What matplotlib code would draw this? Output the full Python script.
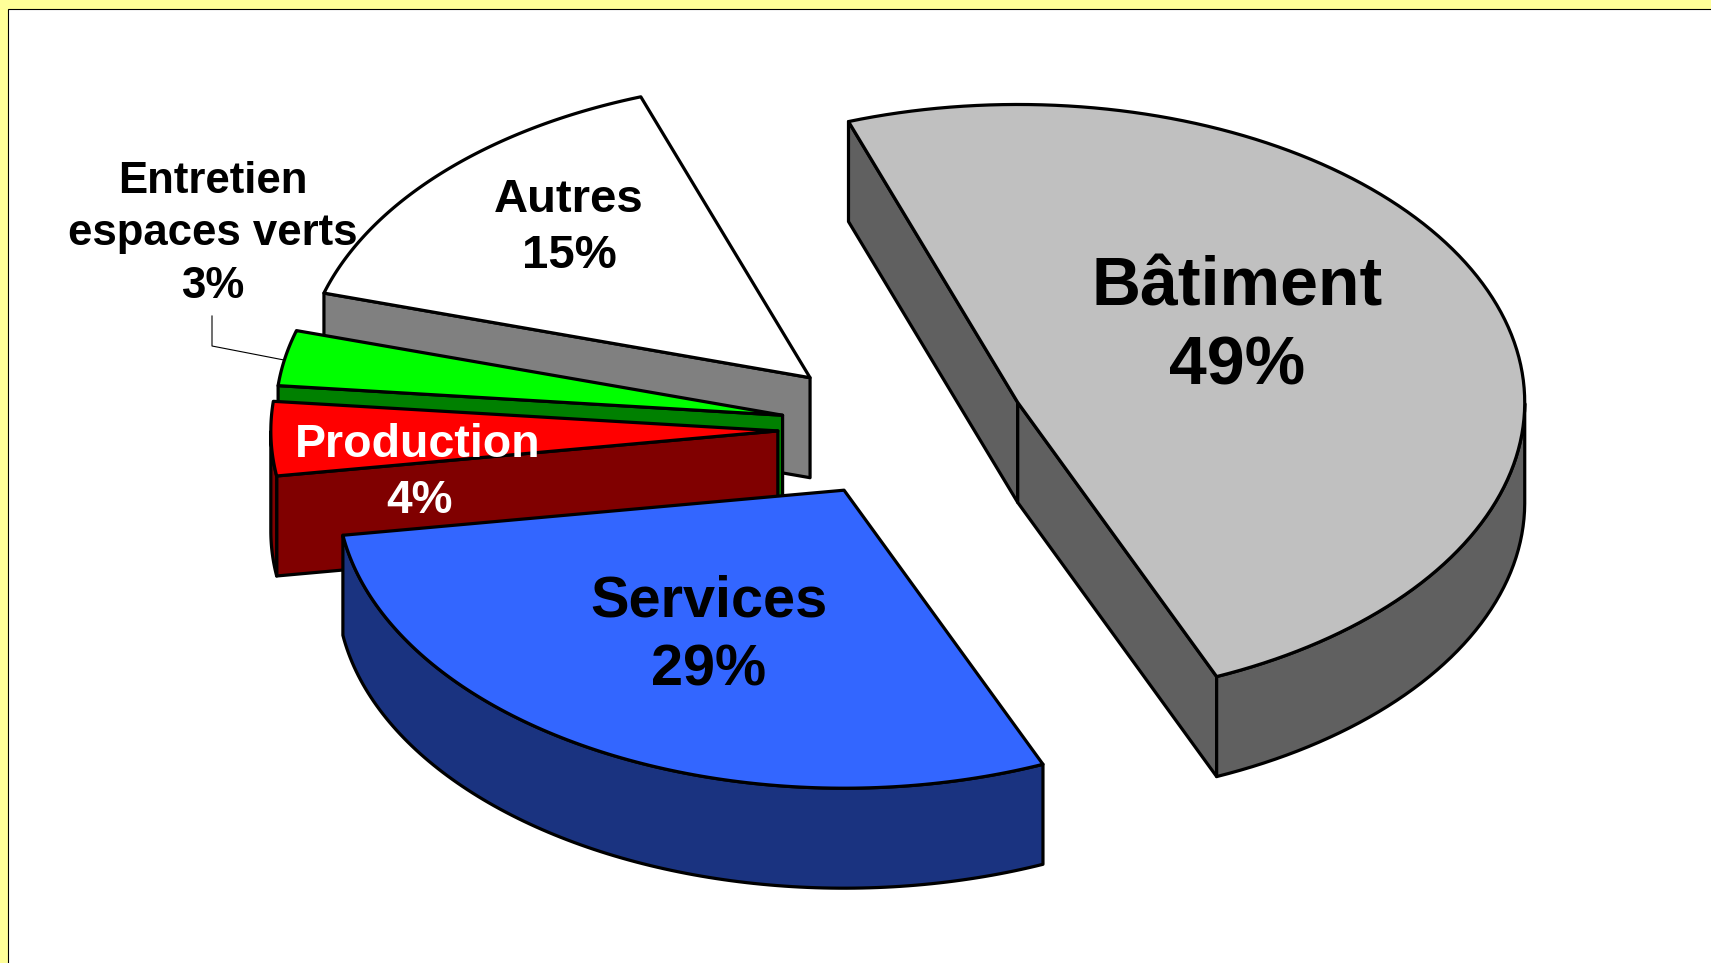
import numpy as np
import matplotlib
matplotlib.use("Agg")
import matplotlib.pyplot as plt
from matplotlib.patches import Polygon, Rectangle

labels = ["Bâtiment", "Services", "Production", "Entretien\nespaces verts", "Autres"]
values = [49, 29, 4, 3, 15]
colors = ["#C0C0C0", "#3366FF", "#FF0000", "#00FF00", "#FFFFFF"]
text_colors = ["black", "black", "white", "black", "black"]
explode = [0.245, 0.235, 0.245, 0.24, 0.25]

W, H = 1711, 963
cx, cy = 902, 429       # pie centre
a, b = 507, 298         # ellipse radii
depth = 100
start = 109.5           # first slice starts here, goes clockwise
lw = 2.3


def pt(t, r=1.0):
    return np.array([r * a * np.cos(np.radians(t)), -r * b * np.sin(np.radians(t))])


def shade(c):
    rgb = np.array(matplotlib.colors.to_rgb(c)) / 2
    return tuple(rgb)


fig = plt.figure(figsize=(W / 100, H / 100), dpi=100, facecolor="#FFFF99")
ax = fig.add_axes([0, 0, 1, 1])
ax.set_xlim(0, W)
ax.set_ylim(H, 0)
ax.axis("off")
ax.add_patch(Rectangle((8, 9), W, H, facecolor="white", edgecolor="black", linewidth=0.8))

# slice angles from values
ends = start - np.cumsum(values) * 3.6
starts = np.r_[start, ends[:-1]]

# painter's order: back slices first
for i in [4, 3, 2, 1, 0]:
    t0, t1 = starts[i], ends[i]
    mid = (t0 + t1) / 2
    apex = np.array([cx, cy]) + pt(mid, explode[i])
    ts = np.linspace(t0, t1, 120)
    arc = np.array([apex + pt(t) for t in ts])
    down = np.array([0, depth])
    dark = shade(colors[i])

    # radial faces, only the ones turned to the viewer
    for p, other in [(arc[0], arc[-1]), (arc[-1], arc[0])]:
        e = p - apex
        n = np.array([e[1], -e[0]])
        if np.dot(n, other - apex) > 0:
            n = -n
        if n[1] > 0:
            ax.add_patch(Polygon([apex, p, p + down, apex + down], closed=True,
                                 facecolor=dark, edgecolor="black", linewidth=lw, joinstyle="round"))

    # outer wall, front part of the arc
    front = np.sin(np.radians(ts)) < 0
    if front.any():
        top = arc[front]
        wall = np.vstack([top, (top + down)[::-1]])
        ax.add_patch(Polygon(wall, closed=True, facecolor=dark, edgecolor="black",
                             linewidth=lw, joinstyle="round"))

    ax.add_patch(Polygon(np.vstack([apex, arc]), closed=True, facecolor=colors[i],
                         edgecolor="black", linewidth=lw, joinstyle="round"))

# leader line of the small slice
ax.plot([212, 212, 284], [316, 346, 360], color="black", lw=0.8)

font = dict(family="Liberation Sans", fontweight="bold", ha="center", va="center")
ax.text(1237, 327, f"{labels[0]}\n{values[0]}%", fontsize=49, color=text_colors[0], linespacing=1.3, **font)
ax.text(709, 636, f"{labels[1]}\n{values[1]}%", fontsize=41.5, color=text_colors[1], linespacing=1.38, **font)
ax.text(418, 445, labels[2], fontsize=33.5, color=text_colors[2], **font)
ax.text(420, 501, f"{values[2]}%", fontsize=33, color="white", **font)
ax.text(213, 234, f"{labels[3]}\n{values[3]}%", fontsize=31.5, color=text_colors[3], linespacing=1.35, **font)
ax.text(569, 228, f"{labels[4]}\n{values[4]}%", fontsize=34, color=text_colors[4], linespacing=1.33, **font)

fig.savefig("out.png", dpi=100, facecolor=fig.get_facecolor())
